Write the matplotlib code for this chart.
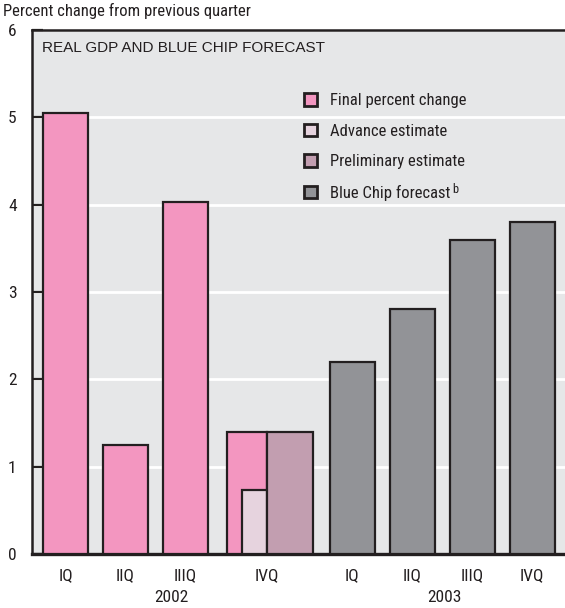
import matplotlib
matplotlib.use("Agg")
import matplotlib.pyplot as plt
from matplotlib.patches import Patch

plt.rcParams['font.family'] = ['Roboto Condensed', 'DejaVu Sans']

# real GDP, percent change from previous quarter
q_2002 = ['IQ', 'IIQ', 'IIIQ']
final_2002 = [5.05, 1.25, 4.03]
final_ivq = 1.4
advance_ivq = 0.73
prelim_ivq = 1.4
q_2003 = ['IQ', 'IIQ', 'IIIQ', 'IVQ']
bluechip_2003 = [2.2, 2.8, 3.6, 3.8]
years = ['2002', '2003']
yticks = [0, 1, 2, 3, 4, 5, 6]

c_final = '#f396c0'
c_adv = '#e6d3de'
c_prelim = '#c29eb0'
c_blue = '#929397'
c_bg = '#e6e7e8'
c_edge = '#231f20'
c_text = '#231f20'

fig = plt.figure(figsize=(5.65, 6.08), dpi=100)
ax = fig.add_axes([32/565, 1 - 554/608, 533/565, 524/608])
ax.set_facecolor(c_bg)

w = 0.75
x2002 = [0, 1, 2]
x2003 = [4.78, 5.78, 6.78, 7.78]
ivq = 3.36

bar_kw = dict(edgecolor=c_edge, linewidth=1.6, zorder=3)
ax.bar(x2002, final_2002, width=w, color=c_final, **bar_kw)
# fourth quarter 2002: final, advance and preliminary side by side
ax.bar(ivq, final_ivq, width=-0.667, align='edge', color=c_final, **bar_kw)
ax.bar(ivq, advance_ivq, width=-0.417, align='edge', color=c_adv, **bar_kw)
ax.bar(ivq, prelim_ivq, width=0.767, align='edge', color=c_prelim, **bar_kw)
ax.bar(x2003, bluechip_2003, width=w, color=c_blue, **bar_kw)

ax.set_xlim(-0.558, 8.325)
ax.set_ylim(0, 6)
ax.set_yticks(yticks)
ax.yaxis.grid(True, color='white', linewidth=2, zorder=1)
ax.set_axisbelow(True)
ax.tick_params(axis='y', direction='in', length=8, width=1.6, color=c_edge,
               pad=11, labelsize=12.5, labelcolor=c_text)
ax.set_xticks(x2002 + [ivq] + x2003)
ax.set_xticklabels(q_2002 + ['IVQ'] + q_2003)
ax.tick_params(axis='x', length=0, pad=10, labelsize=12.5, labelcolor=c_text)

for yr, xc in zip(years, [1.76, 6.31]):
    ax.text(xc, -0.5, yr, transform=ax.transData, ha='center', va='center',
            fontsize=12.5, color=c_text, clip_on=False)

for s in ['left', 'top', 'bottom']:
    ax.spines[s].set_linewidth(1.8)
    ax.spines[s].set_color(c_edge)
ax.spines['right'].set_visible(False)
ax.spines['bottom'].set_linewidth(2.4)

ax.text(0.019, 0.979, 'REAL GDP AND BLUE CHIP FORECAST', transform=ax.transAxes,
        ha='left', va='top', fontsize=11, family='Liberation Sans', color=c_text)

handles = [Patch(facecolor=c, edgecolor=c_edge, linewidth=2)
           for c in [c_final, c_adv, c_prelim, c_blue]]
labels = ['Final percent change', 'Advance estimate', 'Preliminary estimate',
          'Blue Chip forecast']
leg = ax.legend(handles, labels, loc='upper left', bbox_to_anchor=(0.51, 0.880),
                frameon=False, fontsize=12, handlelength=0.8, handleheight=0.8,
                handletextpad=0.8, labelspacing=0.93, borderpad=0, borderaxespad=0)
for t in leg.get_texts():
    t.set_color(c_text)
# footnote mark on the forecast entry, drawn after the legend has been laid out
ax.annotate('b', xy=(1, 1), xycoords=leg.get_texts()[3], xytext=(1, 1),
            textcoords='offset points', ha='left', va='top', fontsize=9,
            color=c_text, zorder=6)

fig.text(3/565, 1 - 3/608, 'Percent change from previous quarter', ha='left', va='top',
         fontsize=12, color=c_text)

fig.canvas.draw()
fig.savefig('out.png', dpi=100)
